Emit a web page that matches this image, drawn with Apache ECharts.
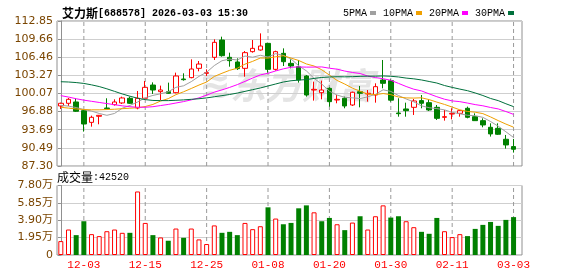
<!DOCTYPE html>
<html><head><meta charset="utf-8">
<script src="https://cdn.jsdelivr.net/npm/echarts@6/dist/echarts.min.js"></script>
<style>html,body{margin:0;padding:0;background:#fff}#c{width:578px;height:276px}</style>
</head><body><div id="c"></div>
<script>
const dates=['11-28','12-01','12-02','12-03','12-04','12-05','12-08','12-09','12-10','12-11','12-12','12-15','12-16','12-17','12-18','12-19','12-22','12-23','12-24','12-25','12-26','12-29','12-30','12-31','01-05','01-06','01-07','01-08','01-09','01-12','01-13','01-14','01-15','01-16','01-19','01-20','01-21','01-22','01-23','01-26','01-27','01-28','01-29','01-30','02-02','02-03','02-04','02-05','02-06','02-09','02-10','02-11','02-12','02-13','02-24','02-25','02-26','02-27','03-02','03-03'];
const labelDates=['12-03','12-15','12-25','01-08','01-20','01-30','02-11','03-03'];
const opens=[97.88,98.35,98.58,97.05,94.99,96.06,97.52,98.11,98.41,99.23,97.52,99.23,101.57,100.40,100.40,100.22,102.63,102.87,104.51,103.63,106.45,109.50,106.45,105.63,104.51,107.45,107.74,108.91,104.33,107.15,105.39,104.80,103.16,100.69,100.22,100.99,98.93,99.23,98.05,100.40,99.99,99.81,102.45,102.33,96.64,97.35,97.64,98.82,98.46,97.64,95.88,96.46,96.58,97.47,95.99,95.29,94.12,93.94,92.01,90.72];
const closes=[98.35,99.05,96.94,94.70,95.88,96.23,97.41,98.58,99.29,98.35,99.23,101.16,100.69,100.69,100.11,103.16,102.51,104.39,105.27,103.75,109.09,106.74,105.86,104.45,107.27,108.03,108.44,104.33,107.45,105.68,104.92,102.46,99.81,100.81,100.69,98.64,99.05,97.88,100.29,100.11,100.11,101.28,101.87,98.90,96.52,97.05,98.76,98.35,97.17,95.70,95.99,96.58,97.05,95.88,95.29,94.53,92.95,92.89,91.01,90.25];
const lows=[97.35,97.88,96.82,93.36,94.23,94.65,97.29,97.94,98.23,98.23,97.29,99.05,99.99,98.93,99.99,100.11,102.34,102.75,103.98,103.16,105.98,106.56,104.80,104.22,103.04,107.27,107.62,103.75,104.10,104.92,104.51,101.99,99.52,98.82,99.05,97.76,98.35,97.47,97.88,97.64,98.64,98.46,100.99,98.64,95.99,95.99,96.29,97.47,96.99,95.41,95.29,95.52,95.99,95.70,95.23,94.12,92.48,92.77,90.36,89.66];
const highs=[98.46,99.29,99.23,97.17,96.17,96.29,99.23,99.05,99.52,99.52,100.52,102.28,102.04,101.46,101.99,103.75,103.63,106.09,105.80,104.33,109.62,110.09,107.27,106.27,107.56,109.50,110.67,109.03,107.62,108.03,106.09,105.98,103.34,102.16,102.34,101.16,99.81,99.52,100.40,101.40,100.69,101.87,105.98,102.57,99.23,98.46,99.11,99.81,99.05,98.05,97.17,97.47,97.17,97.76,96.58,95.70,94.82,94.82,92.77,92.07];
const volumes=[15600,28600,22300,37900,23400,21200,26700,28600,24900,24900,71300,36000,22300,19700,16000,29700,19300,29700,17500,12300,33200,24900,26000,22300,36000,29000,32300,53500,40900,34500,36000,52400,55700,47900,37900,41600,34500,27900,36400,43500,28600,43500,55700,42000,43500,37900,31200,26000,23800,41600,26700,20100,23400,21200,29300,33800,37100,32700,39400,42520];
const volumeUp=[1,1,0,0,1,1,1,1,1,0,1,1,0,1,0,1,0,1,1,1,1,0,0,0,1,1,1,0,1,0,0,0,0,1,0,0,1,0,1,0,1,1,1,0,0,1,1,0,0,0,1,1,1,0,0,0,0,0,0,0];
const ma5=[98.00,97.85,97.60,97.25,96.98,96.56,96.23,96.56,97.48,97.97,98.57,99.32,99.74,100.02,100.38,101.16,101.43,102.17,103.09,103.82,105.00,105.85,106.14,105.98,106.68,106.47,106.81,106.50,107.10,106.79,106.16,104.97,104.06,102.74,101.74,100.48,99.80,99.41,99.31,99.19,99.49,99.93,100.73,100.44,99.72,99.11,98.60,97.90,97.57,97.41,97.19,96.76,96.50,96.24,96.16,95.87,95.14,94.31,93.33,92.33];
const ma10=[97.65,97.50,97.35,97.25,97.20,97.20,97.25,97.30,97.40,97.48,97.57,97.78,98.15,98.75,99.17,99.87,100.38,100.96,101.56,102.10,103.08,103.64,104.16,104.53,105.25,105.74,106.33,106.32,106.54,106.73,106.32,105.89,105.28,104.92,104.26,103.32,102.38,101.74,101.02,100.47,99.99,99.87,100.07,99.87,99.46,99.30,99.27,99.32,99.00,98.56,98.15,97.68,97.20,96.91,96.78,96.53,95.95,95.30,94.69,94.14];
const ma20=[99.70,99.45,99.15,98.90,98.70,98.50,98.30,98.10,97.90,97.75,97.65,97.65,97.75,97.95,98.15,98.40,98.65,98.95,99.30,99.79,100.32,100.71,101.15,101.64,102.21,102.80,103.35,103.64,104.05,104.42,104.70,104.76,104.72,104.73,104.76,104.53,104.36,104.03,103.78,103.60,103.15,102.88,102.68,102.40,101.86,101.31,100.83,100.53,100.01,99.51,99.07,98.77,98.64,98.39,98.12,97.91,97.61,97.36,96.90,96.40];
const ma30=[102.15,102.10,102.00,101.85,101.60,101.30,100.90,100.45,100.00,99.60,99.25,99.00,98.85,98.82,98.82,98.88,98.95,99.05,99.15,99.30,99.50,99.70,99.90,100.15,100.45,100.75,101.05,101.40,101.75,102.10,102.32,102.44,102.53,102.73,102.90,102.98,103.03,103.01,103.04,103.10,103.13,103.13,103.17,103.11,102.99,102.79,102.66,102.46,102.19,101.92,101.48,101.15,100.85,100.57,100.17,99.72,99.20,98.82,98.27,97.76];
const priceTicks=[87.30,90.49,93.69,96.88,100.07,103.27,106.46,109.66,112.85];
const volTicks=[0,19500,39000,58500,78000];
const maNames=['5PMA','10PMA','20PMA','30PMA'];
const stockName='艾力斯';
const stockInfo='[688578] 2026-03-03 15:30';
const volTitle='成交量';

const maData=[ma5,ma10,ma20,ma30];
const maColors=['#a0a0a0','#f0a000','#ff00ff','#00703c'];
const UP='#ff0000', DOWN='#008000';
const labelIdx=labelDates.map(d=>dates.indexOf(d));
const lastVol=volumes[volumes.length-1];
const MONO='"Liberation Mono", monospace';
const CJK='"Noto Sans CJK SC", sans-serif';
const NUMF='"DejaVu Sans", "Noto Sans CJK SC", sans-serif';

const chart=echarts.init(document.getElementById('c'),null,{renderer:'canvas'});
const candleData=dates.map((d,i)=>[i,opens[i],closes[i],lows[i],highs[i]]);
const volData=volumes.map((v,i)=>({value:[i,v],itemStyle:volumeUp[i]?{color:'#ffffff',borderColor:UP,borderWidth:1}:{color:DOWN,borderColor:DOWN,borderWidth:0}}));

function xAxisFor(gi,showLabel){
  return {gridIndex:gi,type:'value',min:-0.5,max:60.1,
    axisLine:{show:false},
    axisTick:{show:false,customValues:labelIdx},
    axisLabel:showLabel?{show:true,customValues:labelIdx,color:'#ff0000',fontFamily:MONO,fontSize:11,margin:5,
      formatter:v=>dates[Math.round(v)]||''}:{show:false},
    splitLine:{show:false}};
}
// vertical dashed guides at the labelled dates (2-point line series on the axes)
function guideSeries(gi,ticks){
  return labelIdx.map(i=>({type:'line',xAxisIndex:gi,yAxisIndex:gi,z:1,silent:true,symbol:'none',showSymbol:false,
    clip:false,data:[[i,ticks[0]],[i,ticks[ticks.length-1]]],
    lineStyle:{color:'#9a9a9a',width:1,type:[4,3]},emphasis:{disabled:true},tooltip:{show:false}}));
}

const option={
  animation:false,
  backgroundColor:'#ffffff',
  title:{left:57,top:2,text:'{c|'+stockName+'}{a|'+stockInfo+'}',
    textStyle:{rich:{c:{fontFamily:CJK,fontSize:12,color:'#000'},a:{fontFamily:MONO,fontSize:10,color:'#000'}}}},
  legend:{data:maNames,left:338,top:3,align:'right',icon:'rect',itemWidth:6,itemHeight:4,itemGap:7,
    textStyle:{fontFamily:MONO,fontSize:10,color:'#000',padding:[0,-2,0,0]}},
  graphic:[
    {type:'text',left:57,top:171,z:10,style:{text:'{c|'+volTitle+'}{a|:'+lastVol+'}',
      rich:{c:{fontFamily:CJK,fontSize:12,fill:'#000'},a:{fontFamily:MONO,fontSize:10,fill:'#000'}}}},
    {type:'text',left:230,top:67,z:0,silent:true,style:{text:'东方财富',font:'italic bold 36px "Noto Sans CJK SC"',fill:'#e4e4e4'}},
    {type:'text',left:199,top:69,z:0,silent:true,style:{text:'≋',font:'italic bold 38px "DejaVu Sans"',fill:'#e4e4e4'}}
  ],
  grid:[
    {left:57,top:21,width:465,height:145,show:true,borderColor:'#909090',borderWidth:1},
    {left:57,top:185.5,width:465,height:69.5,show:true,borderColor:'#909090',borderWidth:1}
  ],
  xAxis:[xAxisFor(0,false),xAxisFor(1,true)],
  yAxis:[
    {gridIndex:0,type:'value',min:priceTicks[0],max:priceTicks[priceTicks.length-1],
      axisLine:{show:true,lineStyle:{color:'#909090'}},
      axisTick:{show:true,length:3,customValues:priceTicks,lineStyle:{color:'#909090'}},
      axisLabel:{customValues:priceTicks,formatter:v=>v.toFixed(2),color:'#7a4500',fontFamily:NUMF,fontSize:11,margin:4},
      splitLine:{show:true,lineStyle:{color:'#cfcfcf',width:1}}},
    {gridIndex:1,type:'value',min:volTicks[0],max:volTicks[volTicks.length-1],
      axisLine:{show:true,lineStyle:{color:'#909090'}},
      axisTick:{show:true,length:3,customValues:volTicks,lineStyle:{color:'#909090'}},
      axisLabel:{customValues:volTicks,formatter:v=>v===0?'0':(v/10000).toFixed(2)+'万',color:'#7a4500',fontFamily:NUMF,fontSize:11,margin:4},
      splitLine:{show:true,lineStyle:{color:'#cfcfcf',width:1}}}
  ],
  series:[
    ...guideSeries(0,priceTicks),
    ...guideSeries(1,volTicks),
    {type:'candlestick',xAxisIndex:0,yAxisIndex:0,z:3,
      dimensions:['x','open','close','lowest','highest'],
      encode:{x:'x',y:['open','close','lowest','highest']},
      data:candleData,barWidth:5,
      itemStyle:{color:'#ffffff',color0:DOWN,borderColor:UP,borderColor0:DOWN,borderWidth:1}},
    ...maNames.map((n,k)=>({name:n,type:'line',xAxisIndex:0,yAxisIndex:0,z:4,symbol:'none',showSymbol:false,
      data:maData[k].map((v,i)=>[i,v]),lineStyle:{color:maColors[k],width:1},itemStyle:{color:maColors[k]}})),
    {type:'bar',xAxisIndex:1,yAxisIndex:1,barWidth:5,data:volData,z:3}
  ]
};
chart.setOption(option);
</script></body></html>
